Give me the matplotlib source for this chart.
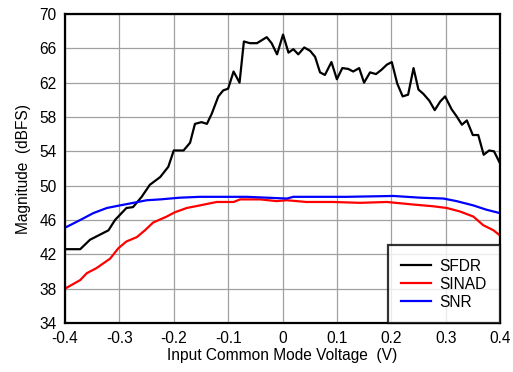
import matplotlib
matplotlib.use("Agg")
import matplotlib.pyplot as plt

plt.rcParams['font.family'] = ['Liberation Sans', 'DejaVu Sans']

sfdr_x = [-0.400, -0.372, -0.354, -0.320, -0.308, -0.287, -0.275, -0.259, -0.244, -0.225,
          -0.210, -0.200, -0.182, -0.170, -0.161, -0.149, -0.139, -0.130, -0.118, -0.109,
          -0.100, -0.090, -0.079, -0.071, -0.060, -0.047, -0.029, -0.020, -0.010, 0.001,
          0.011, 0.020, 0.029, 0.040, 0.051, 0.060, 0.069, 0.078, 0.090, 0.100,
          0.110, 0.121, 0.130, 0.141, 0.150, 0.161, 0.172, 0.182, 0.192, 0.201,
          0.211, 0.221, 0.231, 0.241, 0.250, 0.259, 0.270, 0.280, 0.290, 0.299,
          0.311, 0.320, 0.330, 0.339, 0.350, 0.360, 0.370, 0.380, 0.389, 0.400]
sfdr_y = [42.6, 42.6, 43.7, 44.8, 46.0, 47.4, 47.5, 48.7, 50.1, 51.0,
          52.2, 54.1, 54.1, 55.0, 57.2, 57.4, 57.2, 58.4, 60.4, 61.1,
          61.3, 63.3, 62.0, 66.8, 66.6, 66.6, 67.3, 66.6, 65.3, 67.6,
          65.5, 65.9, 65.3, 66.1, 65.7, 65.0, 63.2, 62.9, 64.4, 62.4,
          63.7, 63.6, 63.3, 63.7, 62.0, 63.2, 63.0, 63.5, 64.1, 64.4,
          61.9, 60.4, 60.6, 63.7, 61.2, 60.7, 59.9, 58.8, 59.8, 60.4,
          58.9, 58.1, 57.1, 57.6, 55.9, 55.9, 53.6, 54.1, 54.0, 52.6]

sinad_x = [-0.400, -0.372, -0.360, -0.342, -0.317, -0.302, -0.287, -0.268, -0.253, -0.238,
           -0.213, -0.198, -0.176, -0.152, -0.121, -0.090, -0.078, -0.041, -0.011, 0.008,
           0.044, 0.093, 0.143, 0.192, 0.241, 0.277, 0.302, 0.326, 0.351, 0.369,
           0.388, 0.400]
sinad_y = [38.0, 39.0, 39.8, 40.4, 41.5, 42.7, 43.5, 44.0, 44.8, 45.7,
           46.4, 46.9, 47.4, 47.7, 48.1, 48.1, 48.4, 48.4, 48.2, 48.3,
           48.1, 48.1, 48.0, 48.1, 47.8, 47.6, 47.4, 47.0, 46.4, 45.4,
           44.8, 44.2]

snr_x = [-0.400, -0.372, -0.348, -0.323, -0.299, -0.274, -0.250, -0.225, -0.189, -0.152,
         -0.115, -0.066, 0.008, 0.020, 0.069, 0.118, 0.204, 0.253, 0.296, 0.320,
         0.351, 0.375, 0.400]
snr_y = [45.1, 46.0, 46.8, 47.4, 47.7, 48.0, 48.3, 48.4, 48.6, 48.7,
         48.7, 48.7, 48.5, 48.7, 48.7, 48.7, 48.8, 48.6, 48.5, 48.2,
         47.7, 47.2, 46.8]

x_ticks = [-0.4, -0.3, -0.2, -0.1, 0, 0.1, 0.2, 0.3, 0.4]
x_ticklabels = ['-0.4', '-0.3', '-0.2', '-0.1', '0', '0.1', '0.2', '0.3', '0.4']
y_ticks = [34, 38, 42, 46, 50, 54, 58, 62, 66, 70]

fs = 11.2
fig = plt.figure(figsize=(5.13, 3.72), dpi=100)
ax = fig.add_axes([65/513, 1-323/372, 435/513, 309/372])

ax.plot(sfdr_x, sfdr_y, color='black', lw=1.6, label='SFDR')
ax.plot(sinad_x, sinad_y, color='#ff0000', lw=1.6, label='SINAD')
ax.plot(snr_x, snr_y, color='#0000ff', lw=1.6, label='SNR')

ax.set_xlim(-0.4, 0.4)
ax.set_ylim(34, 70)
ax.set_xticks(x_ticks)
ax.set_xticklabels(x_ticklabels)
ax.set_yticks(y_ticks)
ax.grid(True, color='#a0a0a0', lw=0.9)
ax.tick_params(length=0, labelsize=fs, pad=6)
for s in ax.spines.values():
    s.set_linewidth(1.6)

ax.set_xlabel('Input Common Mode Voltage  (V)', fontsize=fs, labelpad=1)
ax.set_ylabel('Magnitude  (dBFS)', fontsize=fs, labelpad=6)

leg = ax.legend(loc='lower right', fontsize=fs, frameon=True, fancybox=False,
                borderaxespad=0, handlelength=1.9, borderpad=0.85, labelspacing=0.2,
                handletextpad=0.55)
leg.get_frame().set_edgecolor('black')
leg.get_frame().set_linewidth(1.6)

fig.savefig('out.png', dpi=100)
